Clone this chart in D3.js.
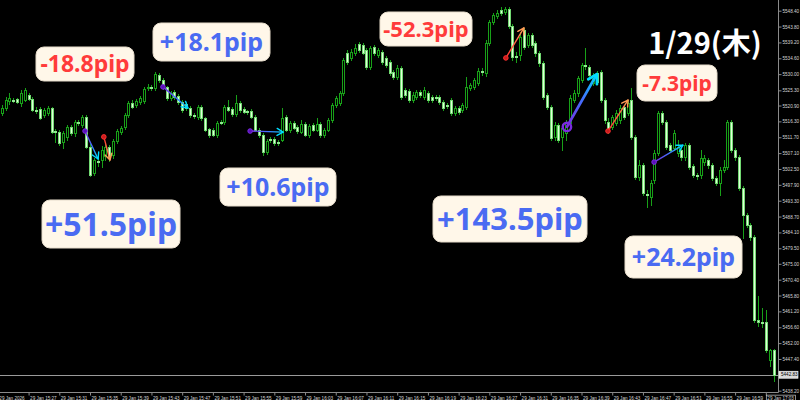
<!DOCTYPE html>
<html><head><meta charset="utf-8">
<script src="https://cdn.jsdelivr.net/npm/d3@7"></script>
<style>html,body{margin:0;padding:0;background:#000;}svg{display:block;}</style>
</head><body>
<svg id="chart" width="800" height="400"></svg>
<script>
// ---- data (30-second candles, XAUUSD-like) ----
const opens = [5518.8,5520.2,5522.2,5522.5,5522.8,5521.7,5522.5,5524.0,5522.8,5519.6,
5519.9,5518.2,5518.8,5520.2,5513.5,5513.2,5510.3,5511.8,5514.7,5512.9,
5516.1,5515.3,5517.6,5508.9,5501.3,5504.8,5505.1,5506.3,5508.9,5506.5,
5510.6,5513.2,5514.7,5518.2,5521.7,5521.1,5522.0,5522.2,5526.0,5526.3,
5526.0,5529.8,5528.3,5526.3,5523.1,5524.9,5523.7,5522.0,5521.4,5520.2,
5518.2,5517.6,5520.5,5517.3,5514.1,5513.8,5512.4,5516.1,5516.1,5520.5,
5519.9,5518.5,5521.7,5519.9,5519.3,5519.3,5517.6,5513.8,5512.4,5507.4,
5511.2,5511.2,5510.3,5510.9,5517.6,5513.8,5515.9,5514.7,5513.2,5515.6,
5512.4,5515.3,5513.8,5515.6,5512.4,5513.8,5516.7,5521.1,5521.7,5524.6,
5536.2,5534.7,5536.2,5538.8,5538.5,5537.1,5532.1,5537.9,5535.6,5536.5,
5534.7,5533.6,5530.7,5529.2,5531.8,5525.4,5525.2,5522.5,5523.4,5524.9,
5523.4,5524.6,5523.4,5523.4,5523.4,5522.0,5521.1,5522.5,5518.8,5520.2,
5519.6,5520.5,5526.0,5526.3,5527.5,5531.0,5530.4,5539.1,5545.2,5546.9,
5548.7,5548.1,5549.0,5544.0,5535.3,5535.6,5542.9,5538.5,5541.4,5539.1,
5536.2,5533.3,5524.0,5520.5,5511.8,5515.3,5511.8,5512.9,5515.9,5522.5,
5524.6,5528.3,5532.7,5532.1,5527.5,5530.4,5530.7,5522.5,5516.1,5514.7,
5515.9,5516.7,5520.5,5518.8,5522.5,5511.8,5500.1,5503.6,5495.2,5494.3,
5499.3,5507.1,5518.8,5516.1,5509.5,5508.6,5507.1,5508.0,5506.0,5509.5,
5503.3,5500.7,5500.7,5504.5,5505.1,5503.6,5499.9,5498.4,5502.2,5503.1,
5516.1,5508.0,5506.0,5496.9,5489.1,5486.2,5482.7,5458.6,5458.0,5458.0,
5447.0,5449.9];
const highs = [5521.1,5523.4,5524.6,5523.1,5523.1,5525.4,5526.0,5524.6,5523.4,5520.5,
5520.5,5520.2,5520.8,5520.5,5514.1,5513.8,5513.5,5515.3,5515.3,5516.7,
5516.7,5518.2,5518.2,5509.8,5505.7,5506.0,5509.2,5510.0,5509.5,5511.2,
5514.1,5515.0,5518.8,5522.2,5522.5,5522.8,5523.7,5526.3,5527.2,5526.9,
5530.7,5530.4,5528.9,5526.6,5525.2,5525.4,5524.3,5522.5,5522.0,5520.8,
5518.8,5521.1,5521.1,5517.6,5514.4,5514.4,5516.4,5516.7,5521.1,5522.5,
5520.5,5524.0,5522.2,5520.5,5519.6,5519.9,5518.2,5514.4,5512.9,5511.2,
5511.8,5511.8,5510.9,5520.2,5518.2,5516.4,5516.4,5515.3,5516.7,5516.1,
5515.6,5515.9,5517.3,5516.1,5514.4,5517.3,5521.7,5523.7,5525.2,5534.7,
5537.1,5537.4,5538.8,5539.4,5539.1,5537.6,5538.2,5538.5,5537.6,5537.1,
5535.3,5534.2,5531.3,5532.7,5532.4,5526.0,5525.7,5524.9,5525.4,5525.4,
5526.3,5525.2,5524.0,5524.0,5524.0,5522.5,5521.7,5523.1,5520.8,5520.8,
5521.7,5529.2,5527.5,5528.9,5531.8,5531.8,5540.0,5545.8,5547.8,5548.7,
5549.6,5549.6,5549.6,5544.6,5536.5,5542.3,5543.5,5542.0,5542.0,5539.7,
5536.8,5533.9,5524.6,5521.1,5516.1,5515.9,5515.6,5516.7,5524.0,5525.4,
5529.5,5533.3,5537.6,5532.7,5530.4,5531.0,5531.3,5523.1,5517.3,5518.2,
5519.6,5521.1,5521.1,5522.5,5526.0,5512.4,5505.1,5504.2,5496.4,5499.3,
5508.0,5519.3,5519.3,5516.7,5510.0,5513.8,5510.9,5508.6,5510.0,5510.0,
5503.9,5501.3,5508.0,5506.5,5505.7,5504.2,5500.4,5503.1,5505.1,5516.7,
5516.7,5508.6,5506.5,5497.5,5489.7,5486.8,5483.3,5465.8,5462.1,5461.5,
5450.4,5450.4];
const lows = [5518.2,5519.6,5521.4,5522.0,5521.7,5520.8,5522.2,5522.5,5519.3,5518.8,
5517.0,5517.6,5518.2,5512.9,5510.3,5509.5,5508.6,5510.9,5512.4,5512.1,
5515.3,5514.7,5508.6,5500.4,5500.7,5503.3,5503.1,5505.1,5504.8,5505.7,
5510.0,5512.6,5514.1,5517.6,5520.2,5520.5,5521.4,5521.7,5525.4,5525.4,
5525.4,5527.8,5525.7,5522.5,5522.5,5522.8,5521.4,5519.0,5519.6,5517.6,
5517.3,5517.0,5516.7,5513.5,5511.8,5512.1,5511.8,5515.6,5515.6,5519.3,
5517.9,5517.9,5519.0,5518.8,5518.5,5517.3,5513.5,5511.8,5506.5,5506.8,
5510.3,5509.5,5509.5,5510.6,5513.5,5513.2,5514.1,5512.9,5512.9,5512.1,
5511.8,5513.5,5513.5,5511.8,5511.8,5513.5,5516.1,5520.5,5521.1,5524.0,
5533.0,5534.2,5535.6,5536.5,5535.9,5531.5,5531.5,5535.6,5535.0,5533.0,
5532.1,5529.8,5528.6,5528.6,5522.8,5523.4,5522.0,5522.0,5522.8,5523.4,
5522.8,5522.0,5522.0,5522.5,5521.4,5519.6,5520.2,5518.2,5518.2,5518.5,
5519.0,5519.9,5525.4,5525.7,5526.9,5529.8,5529.5,5538.5,5544.6,5546.4,
5547.2,5547.5,5543.5,5534.2,5533.6,5534.2,5537.4,5537.9,5537.9,5535.3,
5532.4,5522.8,5519.9,5510.9,5510.9,5510.3,5508.0,5510.9,5514.7,5522.0,
5523.7,5527.8,5531.5,5529.2,5526.9,5527.2,5522.0,5515.9,5512.9,5514.1,
5515.3,5515.9,5517.0,5518.2,5511.2,5499.6,5499.3,5494.9,5491.4,5492.0,
5498.4,5506.5,5515.6,5508.3,5507.4,5508.0,5506.3,5505.1,5505.1,5502.5,
5500.1,5499.6,5499.9,5503.6,5502.8,5499.3,5497.8,5494.9,5501.6,5502.5,
5507.4,5505.1,5496.4,5482.4,5485.6,5481.8,5458.0,5457.1,5456.8,5449.3,
5445.5,5441.1];
const closes = [5520.2,5522.5,5523.1,5522.2,5522.0,5524.6,5525.4,5522.8,5519.6,5519.3,
5517.3,5519.6,5520.2,5513.2,5513.2,5510.0,5512.9,5514.7,5512.9,5516.1,
5515.9,5517.6,5508.9,5500.7,5505.1,5504.5,5508.0,5508.9,5505.7,5510.6,
5513.5,5514.4,5518.2,5521.7,5520.5,5522.2,5523.1,5525.7,5526.3,5526.0,
5530.1,5528.3,5526.3,5523.1,5524.6,5523.4,5522.0,5519.6,5520.2,5518.2,
5517.9,5520.5,5517.3,5513.8,5512.4,5512.4,5515.9,5515.9,5520.5,5519.6,
5518.5,5521.7,5519.6,5519.0,5519.0,5517.6,5513.8,5512.4,5507.4,5510.6,
5510.9,5510.0,5510.0,5517.3,5513.8,5515.9,5514.4,5513.5,5515.6,5512.4,
5515.0,5513.8,5515.6,5512.4,5513.8,5516.7,5521.1,5523.1,5524.6,5534.2,
5533.6,5536.5,5537.6,5537.1,5536.2,5532.1,5537.6,5536.2,5537.1,5533.6,
5532.7,5530.4,5529.2,5531.8,5523.4,5524.0,5522.5,5524.0,5524.9,5524.0,
5525.4,5522.5,5522.5,5523.1,5522.0,5520.2,5520.8,5518.8,5520.2,5519.0,
5521.1,5526.3,5526.9,5528.3,5531.0,5530.7,5539.1,5545.2,5547.2,5547.8,
5547.8,5549.0,5544.0,5535.0,5535.0,5540.8,5537.9,5541.4,5538.5,5536.2,
5533.3,5523.4,5520.5,5511.5,5515.3,5510.9,5514.4,5515.9,5523.1,5524.6,
5528.9,5532.7,5532.4,5529.8,5529.8,5527.8,5522.5,5516.7,5513.8,5517.6,
5518.8,5520.2,5517.6,5521.7,5511.8,5500.1,5503.6,5495.5,5494.9,5498.4,
5507.1,5518.8,5516.1,5508.9,5508.0,5512.9,5508.9,5506.0,5509.5,5503.1,
5500.7,5500.4,5505.7,5505.7,5503.6,5499.9,5498.4,5502.2,5503.1,5516.1,
5508.0,5506.0,5496.9,5489.1,5486.2,5482.7,5458.6,5458.0,5457.7,5449.9,
5449.9,5442.83];

const priceTicks = [5548.40,5543.80,5539.20,5534.60,5530.00,5525.30,5520.90,5516.30,5511.70,5507.10,
5502.50,5497.90,5493.30,5488.70,5484.10,5479.50,5475.00,5470.40,5465.80,5461.20,5456.60,5452.00,5447.40,5438.20];
const timeTickLabels = ["29 Jan 2026","29 Jan 15:27","29 Jan 15:31","29 Jan 15:35","29 Jan 15:39","29 Jan 15:43",
"29 Jan 15:47","29 Jan 15:51","29 Jan 15:55","29 Jan 15:59","29 Jan 16:03","29 Jan 16:07","29 Jan 16:11",
"29 Jan 16:15","29 Jan 16:19","29 Jan 16:23","29 Jan 16:27","29 Jan 16:31","29 Jan 16:35","29 Jan 16:39",
"29 Jan 16:43","29 Jan 16:47","29 Jan 16:51","29 Jan 16:55","29 Jan 16:59","29 Jan 17:03"];

// trades: entry/exit as candle index (fractional) and price
const tradeEntryIndex = [21.7, 26.6, 42.0, 64.7, 131.3, 147.2, 157.9, 169.9];
const tradeEntryPrice = [5513.5, 5511.8, 5526.3, 5513.5, 5534.7, 5514.7, 5513.5, 5504.5];
const tradeExitIndex  = [25.1, 28.2, 48.5, 73.3, 136.0, 155.0, 163.1, 177.4];
const tradeExitPrice  = [5505.4, 5505.1, 5520.2, 5513.2, 5543.4, 5530.0, 5522.5, 5509.4];
const tradeSide       = ["blue","red","blue","blue","red","blue","red","blue"];

const pipLabels = ["-18.8pip","+18.1pip","+51.5pip","+10.6pip","-52.3pip","+143.5pip","-7.3pip","+24.2pip"];
const dateTitle = "1/29(木)";

// ---- layout (not data) ----
const labelBoxes = [ // x, y, w, h, fontSize
  [36,47,98,34,23],[153,23,117,38,25],[42,200,138,48,32],[220,168,116,38,25],
  [380,12,92,34,22],[433,196,154,46,31],[637,65,80,36,21],[625,236,117,42,25]];
const boldTrade = [false,false,false,false,false,true,false,false];

const svg = d3.select("#chart");
svg.append("rect").attr("width",800).attr("height",400).attr("fill","#000");
const plotRight = 778, plotBottom = 392.5;
const x = d3.scaleLinear().domain([0, closes.length-1]).range([1.7, 773.5]);
const y = d3.scaleLinear().domain([5438.2, 5548.4]).range([390.7, 10.7]);

const candles = closes.map((c,i)=>({i, o:opens[i], h:highs[i], l:lows[i], c}));

// current price line
const lastClose = closes[closes.length-1];
svg.append("line").attr("x1",0).attr("x2",plotRight).attr("y1",Math.round(y(lastClose))+0.5).attr("y2",Math.round(y(lastClose))+0.5)
  .attr("stroke","#9a9a9a").attr("stroke-width",1);

// candles
const cg = svg.append("g").attr("shape-rendering","crispEdges");
const WICK = "#18a018";
cg.selectAll("line.w").data(candles).join("line").attr("class","w")
  .attr("x1",d=>Math.round(x(d.i))+0.5).attr("x2",d=>Math.round(x(d.i))+0.5)
  .attr("y1",d=>Math.round(y(d.h))).attr("y2",d=>Math.round(y(d.l))+1)
  .attr("stroke",WICK).attr("stroke-width",1);
cg.selectAll("rect.b").data(candles).join("rect").attr("class","b")
  .each(function(d){
    const cx = Math.round(x(d.i));
    const top = Math.round(y(Math.max(d.o,d.c)));
    const bot = Math.round(y(Math.min(d.o,d.c)));
    const bull = d.c > d.o;
    const sel = d3.select(this);
    if (bot - top < 2) {
      sel.attr("x",cx-1).attr("y",top).attr("width",3).attr("height",Math.max(1,bot-top+1))
         .attr("fill", bull ? WICK : "#8fe88f").attr("stroke","none");
    } else {
      sel.attr("x",cx-0.5).attr("y",top+0.5).attr("width",2).attr("height",bot-top)
         .attr("fill", bull ? "#000" : "#e0ffd8")
         .attr("stroke", bull ? WICK : "#72d872").attr("stroke-width",1);
    }
  });

// trade arrows
const defs = svg.append("defs");
const ag = svg.append("g");
tradeSide.forEach((side,k)=>{
  const x1 = x(tradeEntryIndex[k]), y1 = y(tradeEntryPrice[k]);
  const x2 = x(tradeExitIndex[k]), y2 = y(tradeExitPrice[k]);
  const c0 = side==="blue" ? "#7a2be0" : "#ff2e2e";
  const c2 = side==="blue" ? "#00dcff" : "#ff9a55";
  const gid = "tg"+k;
  const lg = defs.append("linearGradient").attr("id",gid).attr("gradientUnits","userSpaceOnUse")
    .attr("x1",x1).attr("y1",y1).attr("x2",x2).attr("y2",y2);
  lg.append("stop").attr("offset","0%").attr("stop-color",c0);
  if (side==="blue") lg.append("stop").attr("offset","55%").attr("stop-color","#3f74ff");
  lg.append("stop").attr("offset","100%").attr("stop-color",c2);
  const sw = boldTrade[k] ? 2.8 : 1.4;
  ag.append("line").attr("x1",x1).attr("y1",y1).attr("x2",x2).attr("y2",y2)
    .attr("stroke",`url(#${gid})`).attr("stroke-width",sw).attr("stroke-linecap","round");
  const ang = Math.atan2(y2-y1, x2-x1);
  const hl = boldTrade[k] ? 10 : 7, spread = Math.PI/6;
  const p = d3.path();
  p.moveTo(x2 - hl*Math.cos(ang-spread), y2 - hl*Math.sin(ang-spread));
  p.lineTo(x2, y2);
  p.lineTo(x2 - hl*Math.cos(ang+spread), y2 - hl*Math.sin(ang+spread));
  ag.append("path").attr("d",p.toString()).attr("fill","none").attr("stroke",c2)
    .attr("stroke-width",sw).attr("stroke-linecap","round").attr("stroke-linejoin","round");
  if (boldTrade[k]) {
    ag.append("circle").attr("cx",x1).attr("cy",y1).attr("r",4.2).attr("fill","none").attr("stroke",c0).attr("stroke-width",2.4);
  } else {
    ag.append("circle").attr("cx",x1).attr("cy",y1).attr("r",2.3).attr("fill",side==="blue"?"#5a10b8":"#c81e1e").attr("stroke",c0).attr("stroke-width",1);
  }
});

// pip labels
const lg2 = svg.append("g");
pipLabels.forEach((t,k)=>{
  const b = labelBoxes[k];
  lg2.append("rect").attr("x",b[0]).attr("y",b[1]).attr("width",b[2]).attr("height",b[3]).attr("rx",8)
    .attr("fill","#fff7e9").attr("stroke","#e6dccb").attr("stroke-width",1);
  lg2.append("text").attr("x",b[0]+b[2]/2).attr("y",b[1]+b[3]/2).attr("dy","0.36em")
    .attr("text-anchor","middle").attr("font-family","'Noto Sans', 'Open Sans', sans-serif")
    .attr("font-weight",700).attr("font-size",b[4])
    .attr("fill", t.startsWith("-") ? "#ff3b3b" : "#4a6bf2").text(t);
});
svg.append("text").attr("x",705).attr("y",44).attr("dy","0.36em").attr("text-anchor","middle")
  .attr("font-family","'Noto Sans CJK JP', 'Noto Sans', sans-serif").attr("font-weight",700)
  .attr("font-size",29).attr("fill","#fff").text(dateTitle);

// axes
const AX = "#8a8a8a", TXT = "#d6d6d6", FF = "'Liberation Sans', Arial, sans-serif", FS = 4.6;
svg.append("line").attr("x1",plotRight+0.5).attr("x2",plotRight+0.5).attr("y1",0).attr("y2",plotBottom).attr("stroke",AX);
svg.append("line").attr("x1",0).attr("x2",plotRight+0.5).attr("y1",plotBottom).attr("y2",plotBottom).attr("stroke",AX);

const yAxis = d3.axisRight(y).tickValues(priceTicks).tickSize(3).tickPadding(1).tickFormat(d3.format(".2f"));
const yg = svg.append("g").attr("transform",`translate(${plotRight+0.5},0)`).call(yAxis);
yg.select(".domain").remove();
yg.selectAll(".tick line").attr("stroke",AX);
yg.selectAll(".tick text").attr("fill",TXT).attr("font-family",FF).attr("font-size",FS);

const tickIdx = timeTickLabels.map((_,k)=>-1+8*k);
const xAxis = d3.axisBottom(x).tickValues(tickIdx).tickSize(3).tickFormat((d,k)=>timeTickLabels[k]);
const xg = svg.append("g").attr("transform",`translate(0,${plotBottom})`).call(xAxis);
xg.select(".domain").remove();
xg.selectAll(".tick line").attr("stroke",AX);
xg.selectAll(".tick text").attr("fill",TXT).attr("font-family",FF).attr("font-size",FS)
  .attr("text-anchor","start").attr("x",1).attr("y",3).attr("dy","0.9em");
// boxed last time label
const lastT = xg.selectAll(".tick text").filter((d,k)=>k===timeTickLabels.length-1).node();
if (lastT) {
  const bb = lastT.getBBox();
  const tr = lastT.parentNode.getAttribute("transform");
  d3.select(lastT.parentNode).insert("rect","text").attr("x",bb.x-1).attr("y",bb.y-0.5).attr("width",bb.width+2).attr("height",bb.height+1)
    .attr("fill","#000").attr("stroke","#cfcfcf").attr("stroke-width",0.7);
}

// current price tag
const py = y(lastClose);
svg.append("rect").attr("x",plotRight+1).attr("y",py-3.5).attr("width",19).attr("height",7)
  .attr("fill","#d9d9d9").attr("stroke","#fff").attr("stroke-width",0.6);
svg.append("text").attr("x",plotRight+3).attr("y",py).attr("dy","0.35em").attr("font-family",FF)
  .attr("font-size",FS).attr("fill","#000").text(d3.format(".2f")(lastClose));
</script>
</body></html>
